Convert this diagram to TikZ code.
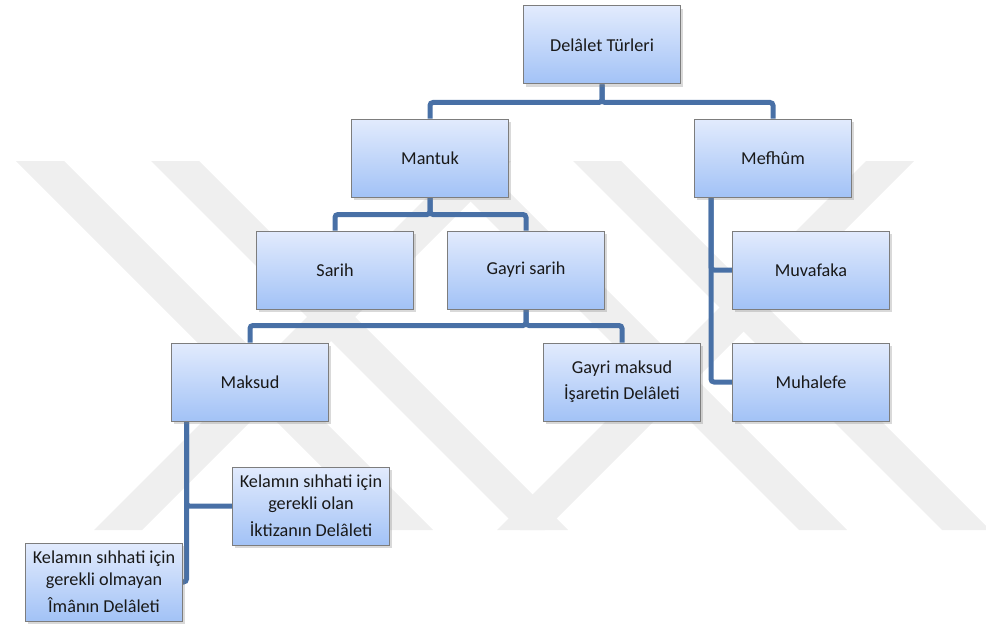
\documentclass[tikz,border=0pt]{standalone}
\usepackage{fontspec}
\setmainfont{Carlito}
\usepackage{xcolor}
\usepackage{tikz}
\usetikzlibrary{shadows,backgrounds}

\definecolor{boxtop}{RGB}{226,235,253}
\definecolor{boxbottom}{RGB}{162,194,246}
\definecolor{boxline}{RGB}{125,125,125}
\definecolor{linkblue}{RGB}{72,112,166}
\definecolor{markgray}{RGB}{239,239,239}

\begin{document}
\begin{tikzpicture}[x=1pt,y=-1pt,font=\fontsize{18.2}{22}\selectfont,
  box/.style={draw=boxline,line width=1pt,top color=boxtop,bottom color=boxbottom,
    minimum width=157pt,minimum height=78pt,inner sep=2pt,align=center,text=black!90,
    drop shadow={shadow xshift=2pt,shadow yshift=-3pt,opacity=.3}},
  link/.style={draw=linkblue,line width=5pt,rounded corners=3pt}]
\useasboundingbox (0,0) rectangle (986,626);

\node[box] (top) at (602,45) {Delâlet Türleri};
\node[box] (mantuk) at (430,158) {Mantuk};
\node[box] (mefhum) at (773,158) {Mefhûm};
\node[box] (sarih) at (335,270) {Sarih};
\node[box] (gsarih) at (526,270) {Gayri sarih};
\node[box] (muvafaka) at (811,270) {Muvafaka};
\node[box] (muhalefe) at (811,382) {Muhalefe};
\node[box] (maksud) at (250,382) {Maksud};
\node[box] (gmaksud) at (622,382) {Gayri maksud\\[4pt]İşaretin Delâleti};
\node[box] (olan) at (311,506) {Kelamın sıhhati için\\gerekli olan\\[5pt]İktizanın Delâleti};
\node[box] (olmayan) at (104,582) {Kelamın sıhhati için\\gerekli olmayan\\[5pt]Îmânın Delâleti};

\begin{pgfonlayer}{background}
% watermark
\foreach \x in {16,151,430,573}
  \fill[markgray] (\x,161) -- (\x+48,161) -- (\x+417,530) -- (\x+369,530) -- cycle;
\foreach \x in {94,497}
  \fill[markgray] (\x,530) -- (\x+48,530) -- (\x+417,161) -- (\x+369,161) -- cycle;

\draw[link] (top.south) -- +(0,18) -| (mantuk.north);
\draw[link] (top.south) -- +(0,18) -| (mefhum.north);
\draw[link] (mantuk.south) -- +(0,17) -| (sarih.north);
\draw[link] (mantuk.south) -- +(0,17) -| (gsarih.north);
\draw[link] (gsarih.south) -- +(0,16) -| (maksud.north);
\draw[link] (gsarih.south) -- +(0,16) -| (gmaksud.north);
\draw[link] ([xshift=17pt]mefhum.south west) |- (muvafaka.west);
\draw[link] ([xshift=17pt]mefhum.south west) |- (muhalefe.west);
\draw[link] ([xshift=15.5pt]maksud.south west) |- (olan.west);
\draw[link] ([xshift=15.5pt]maksud.south west) |- (olmayan.east);
\end{pgfonlayer}
\end{tikzpicture}
\end{document}
